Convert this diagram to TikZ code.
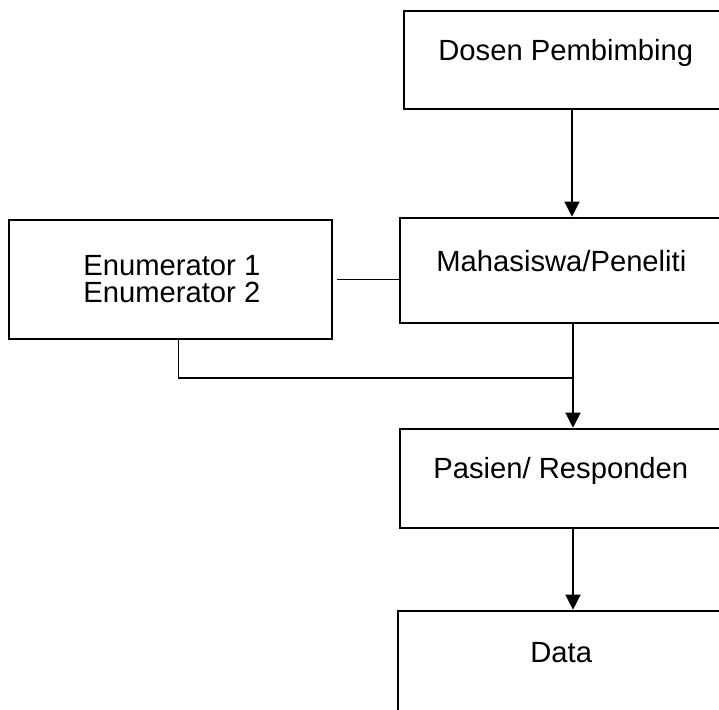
\documentclass[tikz,border=0pt]{standalone}
\usepackage{fontspec}
\setmainfont{Liberation Sans}
\usetikzlibrary{arrows.meta,fit}
\begin{document}
\begin{tikzpicture}[x=0.5pt,y=-0.5pt,
  box/.style={draw,line width=1.3pt,inner sep=0pt,rectangle},
  txt/.style={inner sep=0pt,anchor=base west,font=\fontsize{14.6pt}{16pt}\selectfont},
  conn/.style={line width=0.65pt},
  arr/.style={-{Triangle[width=7.5pt,length=7.5pt]}}]
\useasboundingbox (0,0) rectangle (719,709);
\fill[white] (0,0) rectangle (719,709);
\clip (0,0) rectangle (719,709);
% boxes
\node[box, fit={(404,11) (770,109)}] (dosen) {};
\node[box, fit={(400,218) (770,323)}] (maha) {};
\node[box, fit={(9,220) (332,339)}] (enum) {};
\node[box, fit={(400,429) (770,528)}] (pasien) {};
\node[box, fit={(398,611) (770,780)}] (data) {};
% texts
\node[txt] (tdosen) at (438,60) {Dosen Pembimbing};
\node[txt] (tmaha) at (436,271) {Mahasiswa/Peneliti};
\node[txt] (tenumA) at (83,275) {Enumerator 1};
\node[txt] (tenumB) at (83,302) {Enumerator 2};
\node[txt] (tpasien) at (433,478) {Pasien/ Responden};
\node[txt] (tdata) at (530,662) {Data};
% connectors
\coordinate (c1) at (572,0);
\coordinate (c2) at (573,0);
\coordinate (j) at (573,378);
\path (enum.south west) ++(171,0) coordinate (eb);
\path (enum.east) ++(4,0) coordinate (ee);
\draw[conn,arr] (dosen.south -| c1) -- (maha.north -| c1);
\draw[conn] (ee) -- (maha.west |- ee);
\draw[conn] (eb) |- (j);
\draw[conn,arr] (maha.south -| c2) -- (pasien.north -| c2);
\draw[conn,arr] (pasien.south -| c2) -- (data.north -| c2);
\end{tikzpicture}
\end{document}
